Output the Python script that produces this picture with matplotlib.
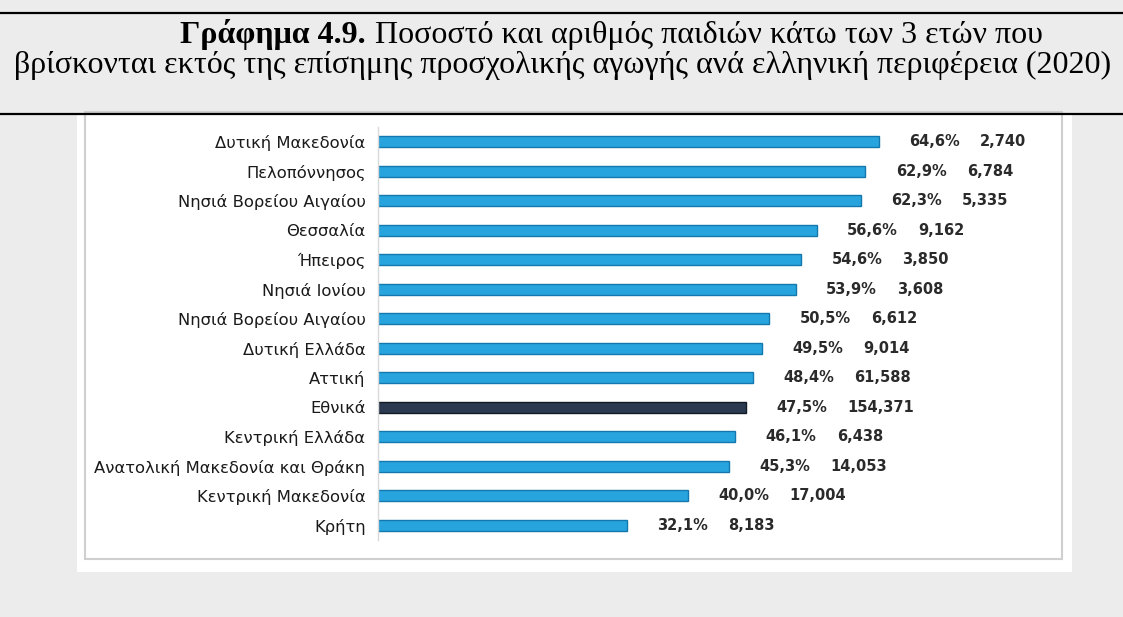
import matplotlib.pyplot as plt
from matplotlib.patches import Rectangle
from matplotlib.lines import Line2D

# --- data ---
regions = ['Δυτική Μακεδονία', 'Πελοπόννησος', 'Νησιά Βορείου Αιγαίου', 'Θεσσαλία',
           'Ήπειρος', 'Νησιά Ιονίου', 'Νησιά Βορείου Αιγαίου', 'Δυτική Ελλάδα',
           'Αττική', 'Εθνικά', 'Κεντρική Ελλάδα', 'Ανατολική Μακεδονία και Θράκη',
           'Κεντρική Μακεδονία', 'Κρήτη']
pct = [64.6, 62.9, 62.3, 56.6, 54.6, 53.9, 50.5, 49.5, 48.4, 47.5, 46.1, 45.3, 40.0, 32.1]
counts = ['2,740', '6,784', '5,335', '9,162', '3,850', '3,608', '6,612', '9,014',
          '61,588', '154,371', '6,438', '14,053', '17,004', '8,183']
highlight = 'Εθνικά'

title_bold = 'Γράφημα 4.9.'
title_rest = 'Ποσοστό και αριθμός παιδιών κάτω των 3 ετών που'
title_line2 = 'βρίσκονται εκτός της επίσημης προσχολικής αγωγής ανά ελληνική περιφέρεια (2020)'

# --- layout helpers (pixel -> figure fraction) ---
W, H = 1123, 617
def fx(px):
    return px / W
def fy(py):
    return 1 - py / H

fig = plt.figure(figsize=(W / 100, H / 100), dpi=100)
fig.patch.set_facecolor('#ececec')

# white panel + inner chart border
fig.add_artist(Rectangle((fx(77), fy(572)), fx(1072) - fx(77), fy(114) - fy(572),
                         transform=fig.transFigure, facecolor='white', edgecolor='none', zorder=0))
fig.add_artist(Rectangle((fx(85), fy(559)), fx(1062) - fx(85), fy(112) - fy(559),
                         transform=fig.transFigure, facecolor='none', edgecolor='#cfcfcf',
                         linewidth=1.5, zorder=1))

# black rules
for y in (12.5, 114):
    fig.add_artist(Line2D([0, 1], [fy(y), fy(y)], transform=fig.transFigure,
                          color='black', linewidth=1.6, zorder=3))

# --- title ---
overlay = fig.add_axes([0, 0, 1, 1], zorder=-1)
overlay.axis('off')
t1 = overlay.text(fx(180), fy(43), title_bold, fontsize=23, fontweight='bold',
                  family='Liberation Serif', va='baseline', ha='left', transform=fig.transFigure)
overlay.annotate(title_rest, xy=(1, 0), xycoords=t1, xytext=(7, 0), textcoords='offset points',
                 fontsize=23, family='Liberation Serif', va='bottom', ha='left')
overlay.text(fx(563), fy(73), title_line2, fontsize=23, family='Liberation Serif',
             va='baseline', ha='center', transform=fig.transFigure)

# --- bar chart ---
ax = fig.add_axes([fx(378), fy(540), fx(1062) - fx(378), fy(127) - fy(540)])
ax.set_facecolor('none')
ypos = list(range(len(regions)))
colors = ['#2b3a50' if r == highlight else '#27a4dd' for r in regions]
edges = ['#111a26' if r == highlight else '#1477ad' for r in regions]
ax.barh(ypos, pct, height=0.38, color=colors, edgecolor=edges, linewidth=1.0)
ax.set_ylim(len(regions) - 0.5, -0.5)
ax.set_xlim(0, (1062 - 378) / 7.75)

ax.set_yticks(ypos)
ax.set_yticklabels(regions, fontsize=11.8, color='#1a1a1a', family='DejaVu Sans')
ax.tick_params(axis='y', length=0, pad=9)
ax.set_xticks([])
for s in ('top', 'right', 'bottom'):
    ax.spines[s].set_visible(False)
ax.spines['left'].set_color('#d9d9d9')
ax.spines['left'].set_linewidth(1.0)

for y, p, c in zip(ypos, pct, counts):
    ax.annotate(f'{p:.1f}%'.replace('.', ','), xy=(p, y), xytext=(22, 0),
                textcoords='offset points', va='center', ha='left', family='DejaVu Sans',
                fontsize=10.5, fontweight='bold', color='#2a2a2a')
    ax.annotate(c, xy=(p, y), xytext=(73, 0), textcoords='offset points', family='DejaVu Sans',
                va='center', ha='left', fontsize=10.5, fontweight='bold', color='#2a2a2a')

fig.savefig('out.png', dpi=100, facecolor=fig.get_facecolor())
